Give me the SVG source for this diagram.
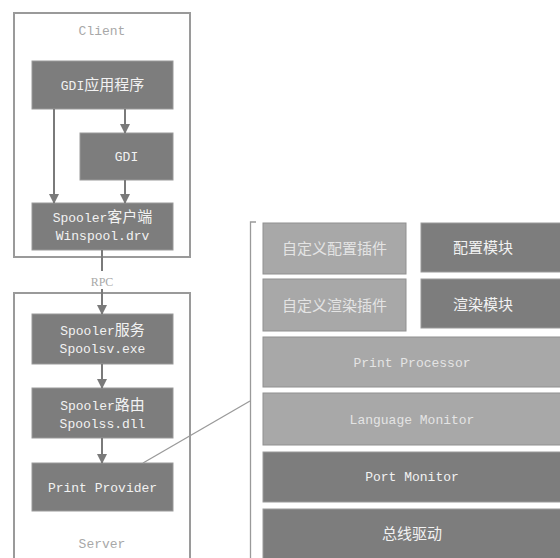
<svg xmlns="http://www.w3.org/2000/svg" width="560" height="558" viewBox="0 0 560 558">
<defs>
<style>
.frame{fill:#fff;stroke:#9a9a9a;stroke-width:2}
.dk{fill:#7d7d7d;stroke:#9a9a9a;stroke-width:1}
.lt{fill:#a8a8a8;stroke:#909090;stroke-width:1}
.t{font-family:"Liberation Mono","Noto Sans CJK SC",monospace;font-size:13px;fill:#f2f2f2;text-anchor:middle}
.tl{font-family:"Liberation Mono","Noto Sans CJK SC",monospace;font-size:13px;fill:#e4e4e4;text-anchor:middle}
.cap{font-family:"Liberation Mono","Noto Sans CJK SC",monospace;font-size:13px;fill:#a8a8a8;text-anchor:middle}
.cj{font-size:15px}
.ln{stroke:#7a7a7a;stroke-width:2;fill:none}
.thin{stroke:#9a9a9a;stroke-width:1.3;fill:none}
</style>
<marker id="ah" markerWidth="10" markerHeight="10" refX="9" refY="5" orient="auto" markerUnits="userSpaceOnUse">
<path d="M0,0 L10,5 L0,10 Z" fill="#7a7a7a"/>
</marker>
</defs>
<rect width="560" height="558" fill="#fff"/>

<g id="client">
<rect class="frame" x="14" y="13" width="176" height="244"/>
<text class="cap" x="102" y="35">Client</text>
</g>
<g id="server">
<rect class="frame" x="14" y="293" width="176" height="280"/>
<text class="cap" x="102" y="548">Server</text>
</g>

<g id="gdiapp"><rect class="dk" x="32" y="61" width="141" height="48"/><text class="t" x="102.5" y="90">GDI<tspan class="cj">应用程序</tspan></text></g>
<g id="gdi"><rect class="dk" x="80" y="133" width="93" height="47"/><text class="t" x="126.5" y="161">GDI</text></g>
<g id="spclient"><rect class="dk" x="32" y="203" width="141" height="47"/><text class="t" x="102.5" y="222">Spooler<tspan class="cj">客户端</tspan></text><text class="t" x="102.5" y="240">Winspool.drv</text></g>
<g id="spsvc"><rect class="dk" x="32" y="314" width="141" height="50"/><text class="t" x="102.5" y="335">Spooler<tspan class="cj">服务</tspan></text><text class="t" x="102.5" y="353">Spoolsv.exe</text></g>
<g id="sprouter"><rect class="dk" x="32" y="388" width="141" height="50"/><text class="t" x="102.5" y="410">Spooler<tspan class="cj">路由</tspan></text><text class="t" x="102.5" y="428">Spoolss.dll</text></g>
<g id="provider"><rect class="dk" x="32" y="463" width="141" height="48"/><text class="t" x="102.5" y="492">Print Provider</text></g>

<g id="bracket"><path class="thin" d="M256,222 H250.5 V558"/></g>

<g id="cfgplugin"><rect class="lt" x="263" y="223" width="143" height="51"/><text class="tl cj" x="334.5" y="254">自定义配置插件</text></g>
<g id="cfgmod"><rect class="dk" x="421" y="223" width="145" height="49"/><text class="t cj" x="483" y="253">配置模块</text></g>
<g id="rndplugin"><rect class="lt" x="263" y="279" width="143" height="52"/><text class="tl cj" x="334.5" y="311">自定义渲染插件</text></g>
<g id="rndmod"><rect class="dk" x="421" y="279" width="145" height="49"/><text class="t cj" x="483" y="310">渲染模块</text></g>
<g id="pp"><rect class="lt" x="263" y="337" width="303" height="50"/><text class="tl" x="412" y="367">Print Processor</text></g>
<g id="lm"><rect class="lt" x="263" y="393" width="303" height="52"/><text class="tl" x="412" y="424">Language Monitor</text></g>
<g id="pm"><rect class="dk" x="263" y="452" width="303" height="50"/><text class="t" x="412" y="481">Port Monitor</text></g>
<g id="bus"><rect class="dk" x="263" y="509" width="303" height="60"/><text class="t cj" x="412" y="539">总线驱动</text></g>

<g id="connectors">
<line class="ln" x1="54" y1="109" x2="54" y2="203" marker-end="url(#ah)"/>
<line class="ln" x1="125" y1="109" x2="125" y2="133" marker-end="url(#ah)"/>
<line class="ln" x1="125" y1="180" x2="125" y2="203" marker-end="url(#ah)"/>
<line class="ln" x1="102" y1="250" x2="102" y2="271"/>
<line class="ln" x1="102" y1="289" x2="102" y2="314" marker-end="url(#ah)"/>
<text x="102" y="286" font-family="'Liberation Serif',serif" font-size="12" fill="#a8a8a8" text-anchor="middle">RPC</text>
<line class="ln" x1="102" y1="364" x2="102" y2="388" marker-end="url(#ah)"/>
<line class="ln" x1="102" y1="438" x2="102" y2="463" marker-end="url(#ah)"/>
<line class="thin" x1="143" y1="463" x2="250" y2="401"/>
</g>
</svg>
